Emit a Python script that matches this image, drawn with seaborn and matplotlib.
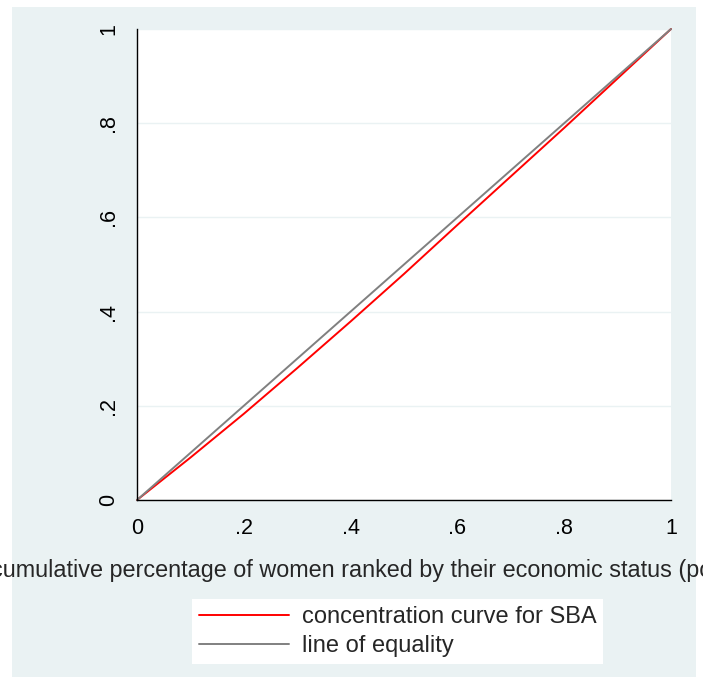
import numpy as np
import pandas as pd
import seaborn as sns
import matplotlib.pyplot as plt
from matplotlib.patches import Rectangle

# concentration curve
cum_pop = [0, .1, .2, .3, .4, .5, .6, .7, .8, .9, 1]
cum_sba = [0, .09, .183, .28, .379, .48, .584, .687, .79, .895, 1]
equality = [0, 1]

ticks = [0, .2, .4, .6, .8, 1]
tick_labels = ["0", ".2", ".4", ".6", ".8", "1"]

xlab = "cumulative percentage of women ranked by their economic status (poorest first)"
lab_curve = "concentration curve for SBA"
lab_equal = "line of equality"

bg = "#EAF2F3"

sns.set_style("white")
plt.rcParams['font.family'] = ['Liberation Sans', 'DejaVu Sans']

W, H = 703, 685
fig = plt.figure(figsize=(W / 100, H / 100), dpi=100)
# stata-like outer background
fig.patches.append(Rectangle((12 / W, 1 - 677 / H), (696 - 12) / W, (677 - 7) / H,
                             transform=fig.transFigure, facecolor=bg,
                             edgecolor="none", zorder=-10))

ax = fig.add_axes([137 / W, 1 - 500 / H, 534 / W, 471 / H])
ax.set_facecolor("white")

df = pd.DataFrame({"x": cum_pop, "y": cum_sba})
eq = pd.DataFrame({"x": equality, "y": equality})
sns.lineplot(data=df, x="x", y="y", ax=ax, color="#FF0000", lw=1.4,
             label=lab_curve, clip_on=False)
sns.lineplot(data=eq, x="x", y="y", ax=ax, color="#808080", lw=1.4,
             label=lab_equal, clip_on=False)

ax.set_xlim(0, 1)
ax.set_ylim(0, 1)
ax.set_xticks(ticks)
ax.set_xticklabels(tick_labels)
ax.set_yticks(ticks)
ax.set_yticklabels(tick_labels, rotation=90, va="center")
ax.tick_params(axis="both", direction="out", length=9, width=1, color="black",
               labelsize=15.5, labelcolor="black")
ax.tick_params(axis="x", pad=4)
ax.tick_params(axis="y", pad=4)

ax.yaxis.grid(True, color=bg, lw=1)
ax.xaxis.grid(False)
ax.set_axisbelow(True)

for s in ["top", "right"]:
    ax.spines[s].set_visible(False)
for s in ["left", "bottom"]:
    ax.spines[s].set_color("black")
    ax.spines[s].set_linewidth(1)

ax.set_xlabel(xlab, fontsize=16.8, labelpad=14)
ax.set_ylabel("")

h, l = ax.get_legend_handles_labels()
ax.get_legend().remove()
leg = fig.legend(h, l, loc="upper center", bbox_to_anchor=(397.5 / W, 1 - 599 / H),
                 fontsize=17, frameon=True, fancybox=False, facecolor="white",
                 edgecolor="white", framealpha=1, handlelength=3.8,
                 handletextpad=0.55, labelspacing=0.3, borderpad=0.3,
                 borderaxespad=0)
leg.get_frame().set_linewidth(0)

fig.savefig("out.png", dpi=100, facecolor="white")
